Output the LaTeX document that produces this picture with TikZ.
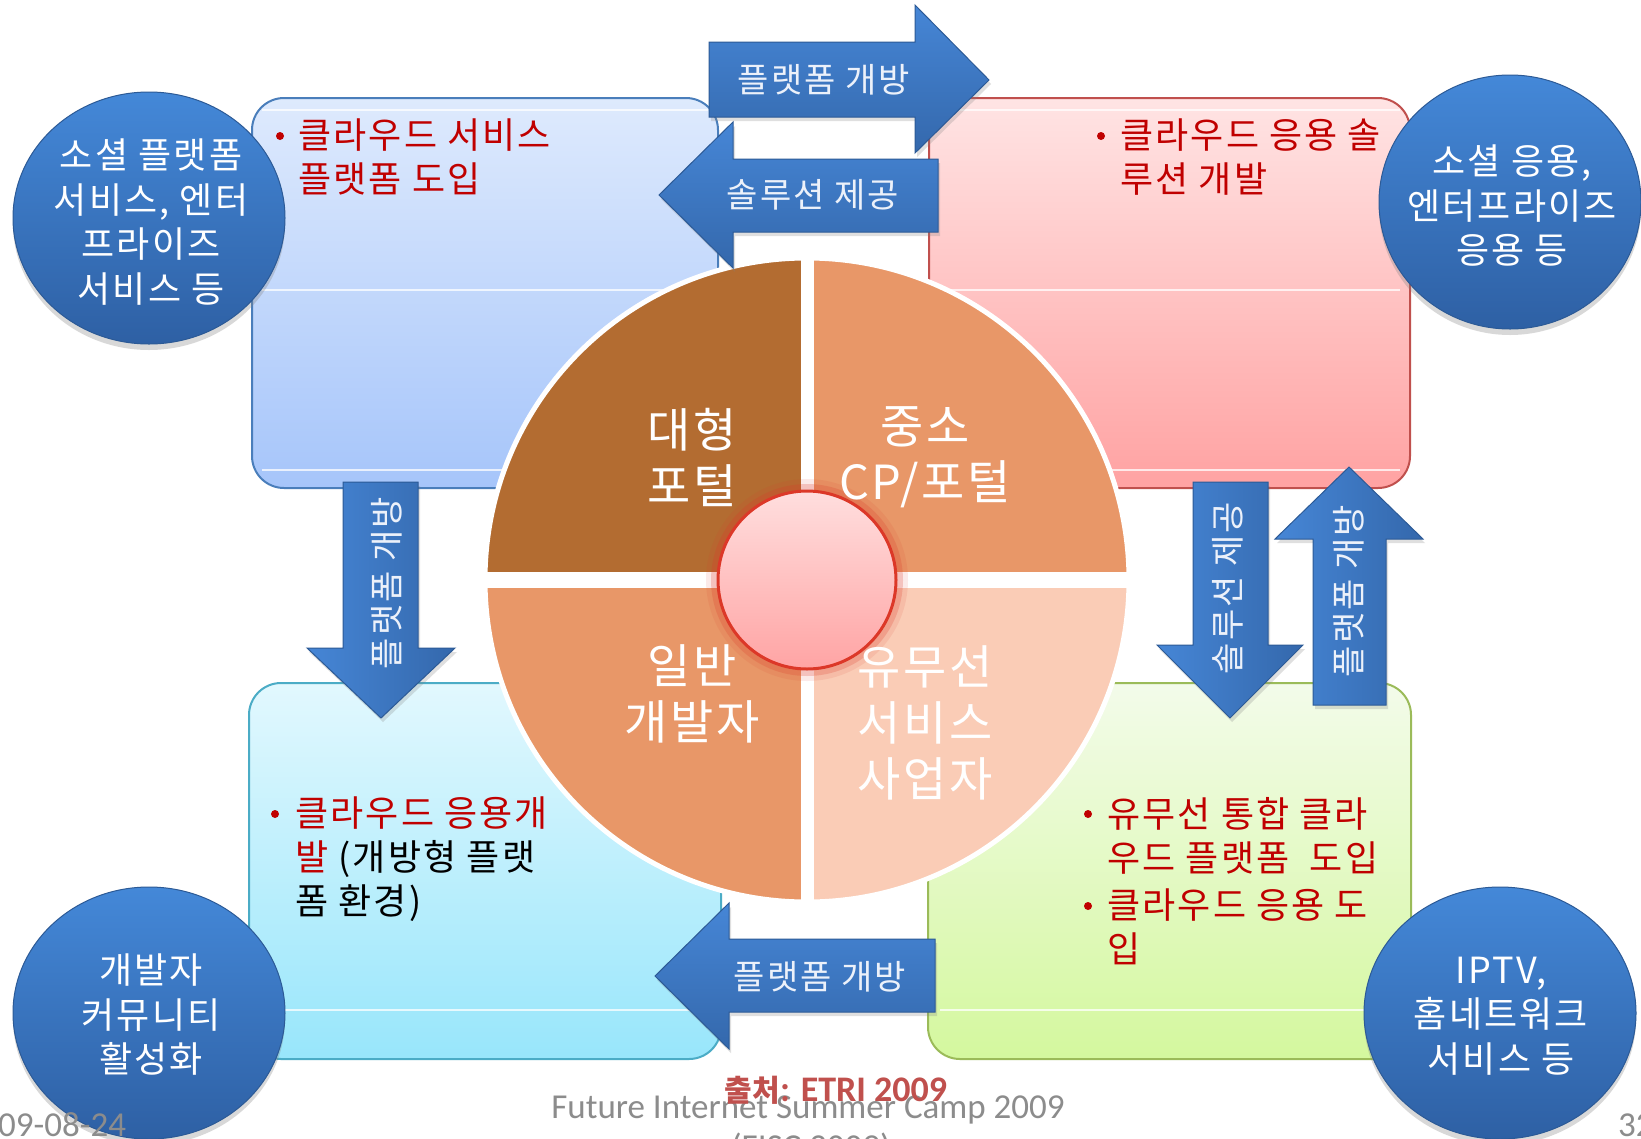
\documentclass[tikz,border=0pt]{standalone}
\usepackage{fontspec}
\setmainfont{Carlito}
\newfontfamily\kr[LetterSpace=6]{Noto Sans CJK KR}
\newfontfamily\krplain{Noto Sans CJK KR}
\usetikzlibrary{shapes.geometric,shadows}

\definecolor{blueboxtop}{RGB}{222,234,253}
\definecolor{blueboxbot}{RGB}{166,197,250}
\definecolor{blueboxline}{RGB}{74,126,187}
\definecolor{pinkboxtop}{RGB}{255,228,228}
\definecolor{pinkboxbot}{RGB}{255,162,162}
\definecolor{pinkboxline}{RGB}{192,80,77}
\definecolor{cyanboxtop}{RGB}{226,248,254}
\definecolor{cyanboxbot}{RGB}{152,230,251}
\definecolor{cyanboxline}{RGB}{75,172,198}
\definecolor{greenboxtop}{RGB}{243,251,234}
\definecolor{greenboxbot}{RGB}{212,248,158}
\definecolor{greenboxline}{RGB}{155,187,89}
\definecolor{arrowtop}{RGB}{70,134,214}
\definecolor{arrowbot}{RGB}{52,104,172}
\definecolor{arrowedge}{RGB}{44,90,150}
\definecolor{badgetop}{RGB}{68,136,216}
\definecolor{badgebot}{RGB}{46,96,164}
\definecolor{quadA}{RGB}{179,108,49}
\definecolor{quadB}{RGB}{232,151,104}
\definecolor{quadC}{RGB}{250,204,182}
\definecolor{hubtop}{RGB}{255,222,222}
\definecolor{hubbot}{RGB}{255,164,164}
\definecolor{hubring}{RGB}{220,56,40}
\definecolor{itemred}{RGB}{192,0,0}
\definecolor{srcred}{RGB}{192,80,77}
\definecolor{footgray}{RGB}{140,140,140}
\definecolor{arrowtext}{RGB}{236,241,250}

\tikzset{
  panel/.style={line width=2pt, rounded corners=32pt},
  gloss/.style={white, line width=1.2pt, opacity=0.75},
  blockarrow/.style={draw=arrowedge, line width=1pt,
    drop shadow={opacity=0.25, shadow xshift=2pt, shadow yshift=-4pt}},
  harrow/.style={blockarrow, top color=arrowtop, bottom color=arrowbot},
  varrow/.style={blockarrow, left color=arrowtop, right color=arrowbot},
  arrowlabel/.style={text=arrowtext, font=\kr\fontsize{34}{40}\selectfont, inner sep=0pt},
  badge/.style={ellipse, draw=arrowedge, line width=1pt, inner sep=0pt,
    top color=badgetop, bottom color=badgebot,
    drop shadow={opacity=0.3, shadow xshift=0pt, shadow yshift=-6pt}},
  badgetext/.style={text=white, align=center, font=\kr\fontsize{36}{44.5}\selectfont, inner sep=0pt},
  bodytext/.style={text=itemred, align=left, font=\kr\fontsize{36}{44}\selectfont,
    inner sep=0pt, anchor=north west},
  bulletdot/.style={circle, fill=itemred, inner sep=0pt, minimum size=8pt},
  quadtext/.style={text=white, align=center, font=\kr\fontsize{47}{56}\selectfont, inner sep=0pt},
  foot/.style={text=footgray, font=\fontsize{35}{40}\selectfont, inner sep=0pt},
}

\begin{document}
\begin{tikzpicture}[x=1pt,y=-1pt]
\useasboundingbox (0,0) rectangle (1641,1138);
\clip (0,0) rectangle (1641,1138);
\fill[white] (0,0) rectangle (1641,1138);

% four rounded panels
\draw[panel, draw=blueboxline, top color=blueboxtop, bottom color=blueboxbot] (252,98) rectangle (718,488);
\draw[panel, draw=pinkboxline, top color=pinkboxtop, bottom color=pinkboxbot] (929,98) rectangle (1410,488);
\draw[panel, draw=cyanboxline, top color=cyanboxtop, bottom color=cyanboxbot] (249,683) rectangle (721,1059);
\draw[panel, draw=greenboxline, top color=greenboxtop, bottom color=greenboxbot] (928,683) rectangle (1411,1059);

% glossy highlight lines on the panels
\foreach \yy in {110,290,470} {
  \draw[gloss] (262,\yy) -- (708,\yy);
  \draw[gloss] (939,\yy) -- (1400,\yy);
}
\draw[gloss] (262,1010) -- (708,1010);
\draw[gloss] (940,1010) -- (1398,1010);

% quartered disc
\coordinate (pc) at (807,580);
\begin{scope}
  \clip (pc) circle[radius=322];
  \fill[quadA] (480,250) rectangle (807,580);
  \fill[quadB] (807,250) rectangle (1135,580);
  \fill[quadB] (480,580) rectangle (807,910);
  \fill[quadC] (807,580) rectangle (1135,910);
\end{scope}
\draw[white, line width=13pt] (807,255) -- (807,905);
\draw[white, line width=16pt] (482,580) -- (1132,580);
\draw[white, line width=5pt] (pc) circle[radius=322];

% glowing hub
\draw[hubring, opacity=0.10, line width=18pt] (pc) circle[radius=92];
\draw[hubring, opacity=0.22, line width=10pt] (pc) circle[radius=91];
\node[circle, minimum size=178pt, inner sep=0pt, top color=hubtop, bottom color=hubbot,
      draw=hubring, line width=3pt] (hub) at (pc) {};

\node[quadtext] (qa) at (692,457) {대형\\포털};
\node[quadtext] (qb) at (925,457) {중소\\CP/포털};
\node[quadtext] (qc) at (692,694) {일반\\개발자};
\node[quadtext] (qd) at (925,723) {유무선\\서비스\\사업자};

% panel texts
\node[bulletdot] (b1) at (280,136) {};
\node[bodytext] (t1) at (298,119) {클라우드 서비스\\플랫폼 도입};
\node[bulletdot] (b2) at (1101,136) {};
\node[bodytext] (t2) at (1120,119) {클라우드 응용 솔\\루션 개발};
\node[bulletdot] (b3) at (275,814) {};
\node[bodytext, text=black] (t3) at (295,797)
  {\textcolor{itemred}{클라우드 응용개}\\\textcolor{itemred}{발} (개방형 플랫\\폼 환경)};
\node[bulletdot] (b4) at (1088,814) {};
\node[bodytext] (t4) at (1107,797) {유무선 통합 클라\\우드 플랫폼\ \ 도입};
\node[bulletdot] (b5) at (1088,906) {};
\node[bodytext] (t5) at (1107,889) {클라우드 응용 도\\입};

% blue badges
\node[badge, minimum width=272pt, minimum height=252pt] (e1) at (149,218) {};
\node[badge, minimum width=262pt, minimum height=254pt] (e2) at (1510,202) {};
\node[badge, minimum width=272pt, minimum height=252pt] (e3) at (149,1013) {};
\node[badge, minimum width=272pt, minimum height=252pt] (e4) at (1500,1013) {};
\node[badgetext] (e1t) at (151,222) {소셜 플랫폼\\서비스, 엔터\\프라이즈\\서비스 등};
\node[badgetext] (e2t) at (1512,206) {소셜 응용,\\엔터프라이즈\\응용 등};
\node[badgetext] (e3t) at (151,1015) {개발자\\커뮤니티\\활성화};
\node[badgetext] (e4t) at (1501,1016) {IPTV,\\홈네트워크\\서비스 등};

% block arrows
\draw[harrow] (709,42) -- (915,42) -- (915,5) -- (989,80) -- (915,153) -- (915,117) -- (709,117) -- cycle;
\draw[harrow] (938,159) -- (733,159) -- (733,122) -- (659,195) -- (733,268) -- (733,232) -- (938,232) -- cycle;
\draw[harrow] (935,939) -- (729,939) -- (729,903) -- (655,976) -- (729,1049) -- (729,1012) -- (935,1012) -- cycle;
\draw[varrow] (343,482) -- (343,648) -- (307,648) -- (381,718) -- (455,648) -- (418,648) -- (418,482) -- cycle;
\draw[varrow] (1193,482) -- (1193,645) -- (1157,645) -- (1230,718) -- (1303,645) -- (1268,645) -- (1268,482) -- cycle;
\draw[varrow] (1313,705) -- (1313,539) -- (1275,539) -- (1349,467) -- (1423,539) -- (1386,539) -- (1386,705) -- cycle;

\node[arrowlabel] (a1) at (824,80) {플랫폼 개방};
\node[arrowlabel] (a2) at (813,195) {솔루션 제공};
\node[arrowlabel] (a3) at (820,977) {플랫폼 개방};
\node[arrowlabel, rotate=90] (a4) at (387,583) {플랫폼 개방};
\node[arrowlabel, rotate=90] (a5) at (1228,588) {솔루션 제공};
\node[arrowlabel, rotate=90] (a6) at (1349,591) {플랫폼 개방};

% footer
\node[foot, anchor=base] (fisc) at (808,1118) {Future Internet Summer Camp 2009};
\node[foot, anchor=base] (fisc2) at (811,1158) {(FISC 2009)};
\node[foot, anchor=base west] (date) at (-2,1136) {09-08-24};
\node[foot, anchor=base west] (page) at (1618,1136) {32};
\node[text=srcred, inner sep=0pt, anchor=base] (src) at (836,1101)
  {{\krplain\bfseries\fontsize{30}{34}\selectfont 출처}{\bfseries\fontsize{36}{40}\selectfont: ETRI 2009}};
\end{tikzpicture}
\end{document}
